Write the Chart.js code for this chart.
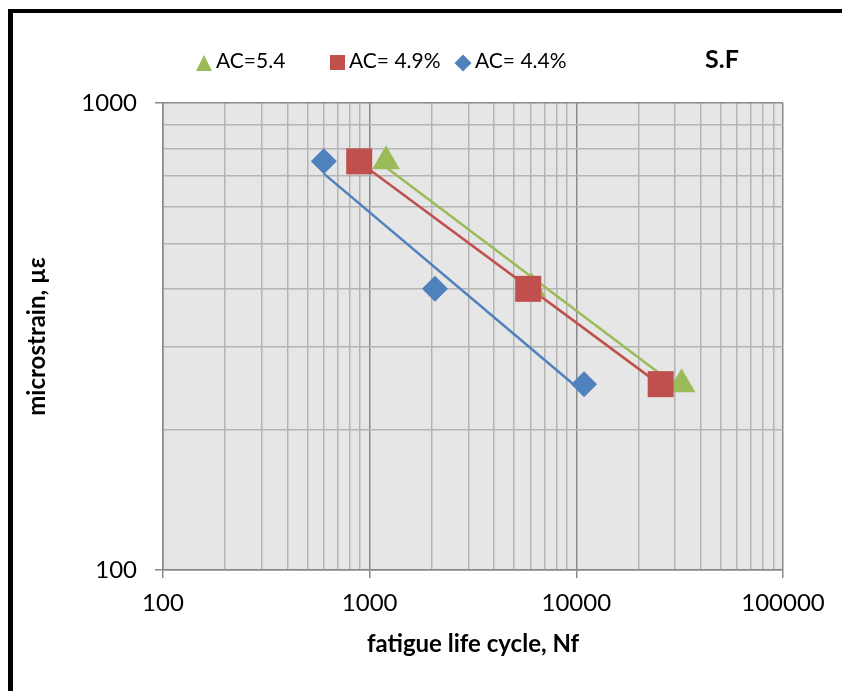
<!DOCTYPE html>
<html>
<head>
<meta charset="utf-8">
<script src="https://cdn.jsdelivr.net/npm/chart.js@4"></script>
<style>
  body { margin: 0; background: #fff; font-family: Lato, "Open Sans", sans-serif; }
  #wrap { position: relative; width: 842px; height: 691px; overflow: hidden; }
  #frame { position: absolute; left: 8px; top: 9px; width: 900px; height: 800px;
           border-left: 5px solid #000; border-top: 4px solid #000; pointer-events: none; }
  canvas { position: absolute; left: 0; top: 0; }
  .leg { position: absolute; top: 48px; font-size: 21px; color: #000; white-space: nowrap; line-height: 24px; }
  .mk { display: inline-block; vertical-align: middle; margin-right: 4px; }
  .tri { width: 0; height: 0; border-left: 8px solid transparent; border-right: 8px solid transparent;
         border-bottom: 16px solid #9BBB59; }
  .sq { width: 15px; height: 15px; background: #C0504D; }
  .dia { width: 12px; height: 12px; background: #4F81BD; transform: rotate(45deg); margin-left: 3px; margin-right: 6px; }
  #sf { position: absolute; left: 705px; top: 43px; font-size: 25px; font-weight: bold; }
</style>
</head>
<body>
<div id="wrap">
  <canvas id="chart" width="842" height="691"></canvas>
  <div class="leg" style="left:196px"><span class="mk tri"></span>AC=5.4</div>
  <div class="leg" style="left:330px"><span class="mk sq"></span>AC= 4.9%</div>
  <div class="leg" style="left:454px"><span class="mk dia"></span>AC= 4.4%</div>
  <div id="sf">S.F</div>
  <div id="frame"></div>
</div>
<script>
// cycles to failure (Nf) and strain for each asphalt content
const nfAC44 = [600, 2070, 10900];
const strainAC44 = [750, 400, 250];

const nfAC49 = [890, 5850, 25600];
const strainAC49 = [750, 400, 250];

const nfAC54 = [1200, 6100, 32300];
const strainAC54 = [750, 400, 250];

const xTickLabels = [100, 1000, 10000, 100000];
const yTickLabels = [100, 1000];

const blue = "#4F81BD";
const red = "#C0504D";
const green = "#9BBB59";

function toPoints(xs, ys) {
  return xs.map((x, i) => ({ x: x, y: ys[i] }));
}

// power trendline (straight line on log-log), like Excel
function powerTrend(xs, ys) {
  const lx = xs.map(Math.log10);
  const ly = ys.map(Math.log10);
  const n = lx.length;
  const mx = lx.reduce((a, b) => a + b, 0) / n;
  const my = ly.reduce((a, b) => a + b, 0) / n;
  let sxy = 0, sxx = 0;
  for (let i = 0; i < n; i++) {
    sxy += (lx[i] - mx) * (ly[i] - my);
    sxx += (lx[i] - mx) * (lx[i] - mx);
  }
  const b = sxy / sxx;
  const a = my - b * mx;
  const x0 = Math.min(...xs);
  const x1 = Math.max(...xs);
  return [x0, x1].map((x) => ({ x: x, y: Math.pow(10, a + b * Math.log10(x)) }));
}

function isDecade(v) {
  const l = Math.log10(v);
  return Math.abs(l - Math.round(l)) < 1e-9;
}

// 1..9 x 10^n gridlines between the decade labels
function logTicks(decades) {
  const ticks = [];
  for (let i = 0; i < decades.length - 1; i++) {
    for (let k = 1; k < 10; k++) ticks.push({ value: decades[i] * k });
  }
  ticks.push({ value: decades[decades.length - 1] });
  return ticks;
}

const plotBg = {
  id: "plotBg",
  beforeDraw(chart) {
    const { ctx, chartArea } = chart;
    ctx.save();
    ctx.fillStyle = "#E6E6E6";
    ctx.fillRect(chartArea.left, chartArea.top, chartArea.right - chartArea.left, chartArea.bottom - chartArea.top);
    ctx.restore();
  },
};

const gridColor = (c) => (c.tick && isDecade(c.tick.value) ? "#898989" : "#B4B4B4");
const tickColor = (c) => (c.tick && isDecade(c.tick.value) ? "#898989" : "rgba(0,0,0,0)");

const trendLine = (data, color) => ({
  type: "scatter",
  data: data,
  showLine: true,
  borderColor: color,
  borderWidth: 2.5,
  pointRadius: 0,
  order: 10,
});

new Chart(document.getElementById("chart").getContext("2d"), {
  type: "scatter",
  data: {
    datasets: [
      trendLine(powerTrend(nfAC54, strainAC54), green),
      trendLine(powerTrend(nfAC49, strainAC49), red),
      trendLine(powerTrend(nfAC44, strainAC44), blue),
      {
        label: "AC=5.4",
        data: toPoints(nfAC54, strainAC54),
        pointStyle: "triangle",
        pointRadius: 16,
        backgroundColor: green,
        borderColor: green,
        borderWidth: 0,
        order: 3,
      },
      {
        label: "AC= 4.9%",
        data: toPoints(nfAC49, strainAC49),
        pointStyle: "rect",
        pointRadius: 18.4,
        backgroundColor: red,
        borderColor: red,
        borderWidth: 0,
        order: 2,
      },
      {
        label: "AC= 4.4%",
        data: toPoints(nfAC44, strainAC44),
        pointStyle: "rectRot",
        pointRadius: 13,
        backgroundColor: blue,
        borderColor: blue,
        borderWidth: 0,
        order: 1,
      },
    ],
  },
  options: {
    responsive: false,
    animation: false,
    layout: { padding: { left: 0, right: 59, top: 103, bottom: 0 } },
    plugins: { legend: { display: false }, tooltip: { enabled: false } },
    scales: {
      x: {
        type: "logarithmic",
        min: 100,
        max: 100000,
        afterFit: (s) => { s.height = 121; },
        afterBuildTicks: (s) => { s.ticks = logTicks(xTickLabels); },
        grid: { color: gridColor, tickColor: tickColor, tickLength: 8, lineWidth: 1.5 },
        border: { color: "#898989", width: 1.5 },
        ticks: {
          autoSkip: false,
          maxRotation: 0,
          padding: 11,
          color: "#000",
          font: { family: "Lato", size: 24 },
          callback: (v) => (xTickLabels.includes(v) ? String(v) : ""),
        },
        title: {
          display: true,
          text: "fatigue life cycle, Nf",
          color: "#000",
          font: { family: "Lato", size: 24, weight: "bold" },
          padding: { top: 0, bottom: 32 },
        },
      },
      y: {
        type: "logarithmic",
        min: 100,
        max: 1000,
        afterFit: (s) => { s.width = 163; },
        afterBuildTicks: (s) => { s.ticks = logTicks(yTickLabels); },
        grid: { color: gridColor, tickColor: tickColor, tickLength: 8, lineWidth: 1.5 },
        border: { color: "#898989", width: 1.5 },
        ticks: {
          autoSkip: false,
          padding: 18,
          color: "#000",
          font: { family: "Lato", size: 24 },
          callback: (v) => (yTickLabels.includes(v) ? String(v) : ""),
        },
        title: {
          display: true,
          text: "microstrain, µε",
          color: "#000",
          font: { family: "Lato", size: 24, weight: "bold" },
          padding: { top: 23, bottom: 0 },
        },
      },
    },
  },
  plugins: [plotBg],
});
</script>
</body>
</html>
